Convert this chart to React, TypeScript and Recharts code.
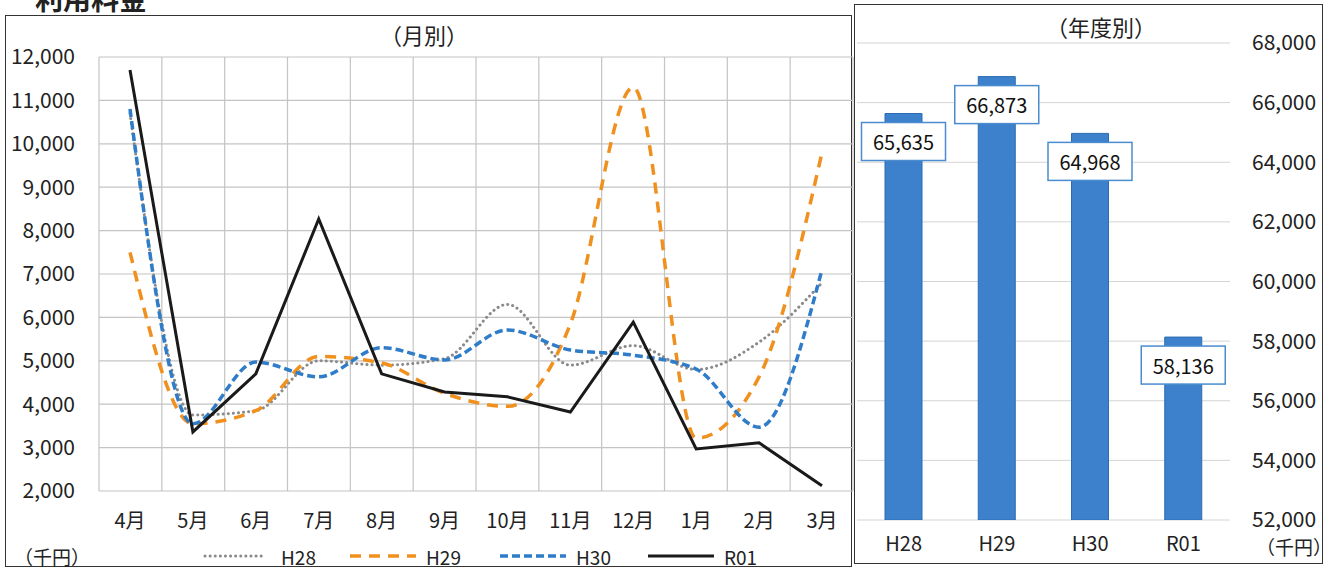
import React from 'react';
import {
  LineChart, Line, BarChart, Bar, XAxis, YAxis, CartesianGrid, LabelList,
} from 'recharts';

// 月別
const months = ['4月', '5月', '6月', '7月', '8月', '9月', '10月', '11月', '12月', '1月', '2月', '3月'];
const h28 = [10700, 3750, 3850, 5000, 4900, 5050, 6300, 4900, 5350, 4800, 5430, 6800];
const h29 = [7500, 3550, 3850, 5100, 4950, 4250, 3950, 5850, 11300, 3220, 4630, 9800];
const h30 = [10800, 3550, 4970, 4630, 5300, 5020, 5710, 5250, 5130, 4810, 3470, 7100];
const r01 = [11700, 3360, 4700, 8270, 4700, 4280, 4170, 3820, 5890, 2970, 3110, 2120];
const monthTicks = [2000, 3000, 4000, 5000, 6000, 7000, 8000, 9000, 10000, 11000, 12000];

// 年度別
const years = ['H28', 'H29', 'H30', 'R01'];
const yearTotals = [65635, 66873, 64968, 58136];
const yearTicks = [52000, 54000, 56000, 58000, 60000, 62000, 64000, 66000, 68000];

const monthData = months.map((m, i) => ({ m, H28: h28[i], H29: h29[i], H30: h30[i], R01: r01[i] }));
const yearData = years.map((y, i) => ({ y, v: yearTotals[i] }));

const FONT = '"Noto Sans CJK JP", "Noto Sans", sans-serif';
const GRID = '#c4c4c4';

const series = [
  { key: 'H28', color: '#8a8a8a', dash: '0.1 5', width: 3, type: 'monotone' as const, cap: 'round' as const },
  { key: 'H29', color: '#f0901e', dash: '11 8', width: 3.5, type: 'monotone' as const, cap: 'butt' as const },
  { key: 'H30', color: '#2f7cc8', dash: '8 4', width: 3.5, type: 'monotone' as const, cap: 'butt' as const },
  { key: 'R01', color: '#1a1a1a', dash: undefined, width: 3, type: 'linear' as const, cap: 'butt' as const },
];

// 区切り位置に縦グリッド
const boundaryLines = ({ offset }: any) => {
  const out: number[] = [];
  for (let i = 0; i <= months.length; i++) out.push(offset.left + (offset.width * i) / months.length);
  return out;
};

const ValueBox = (props: any) => {
  const { x, y, width, value } = props;
  const cx = x + width / 2;
  const cy = y + 28;
  return (
    <g>
      <rect x={cx - 42} y={cy - 19} width={84} height={38} fill="#fff" stroke="#4a8ccf" strokeWidth={1.5} />
      <text x={cx} y={cy} textAnchor="middle" dominantBaseline="central" fontSize={20} fill="#111" fontFamily={FONT}>
        {Number(value).toLocaleString('en-US')}
      </text>
    </g>
  );
};

const legendX = [205, 350, 500, 648];

export default function App() {
  return (
    <div style={{ position: 'absolute', left: 0, top: 0, width: 1335, height: 570, background: '#fff', fontFamily: FONT, overflow: 'hidden' }}>
      <div style={{ position: 'absolute', left: 35, top: -16, fontSize: 28, lineHeight: '28px', fontWeight: 700, color: '#222' }}>利用料金</div>

      {/* panel frames */}
      <div style={{ position: 'absolute', left: 5, top: 15, width: 847, height: 552, border: '1.5px solid #333', boxSizing: 'border-box' }} />
      <div style={{ position: 'absolute', left: 854, top: 4, width: 469, height: 560, border: '1.5px solid #333', boxSizing: 'border-box' }} />

      <div style={{ position: 'absolute', left: 380, top: 18, fontSize: 22, color: '#222' }}>（月別）</div>
      <div style={{ position: 'absolute', left: 1046, top: 10, fontSize: 22, color: '#222' }}>（年度別）</div>

      <div style={{ position: 'absolute', left: 0, top: 0 }}>
        <LineChart width={860} height={570} data={monthData} margin={{ top: 57, right: 7, bottom: 0, left: 0 }}>
          <CartesianGrid stroke={GRID} strokeWidth={1.2} verticalCoordinatesGenerator={boundaryLines} />
          <XAxis dataKey="m" axisLine={false} tickLine={false} tickSize={0} tickMargin={23} height={79}
            interval={0} padding={{ left: 31, right: 31 }} tick={{ fontSize: 20, fill: '#222', fontFamily: FONT }} />
          <YAxis domain={[2000, 12000]} ticks={monthTicks} axisLine={false} tickLine={false} tickSize={0} tickMargin={24}
            width={99} tickFormatter={(v: number) => v.toLocaleString('en-US')}
            tick={{ fontSize: 21, fill: '#222', fontFamily: FONT }} />
          {series.map(s => (
            <Line key={s.key} dataKey={s.key} type={s.type} stroke={s.color} strokeWidth={s.width}
              strokeDasharray={s.dash} strokeLinecap={s.cap} dot={false} activeDot={false} isAnimationActive={false} />
          ))}
        </LineChart>
      </div>

      {/* 凡例 */}
      <div style={{ position: 'absolute', left: 14, top: 543, fontSize: 19, color: '#222' }}>（千円）</div>
      <svg style={{ position: 'absolute', left: 0, top: 540 }} width={800} height={30}>
        {series.map((s, i) => (
          <g key={s.key}>
            <line x1={legendX[i]} x2={legendX[i] + (i === 0 ? 60 : 66)} y1={16} y2={16} stroke={s.color}
              strokeWidth={s.width} strokeDasharray={s.dash} strokeLinecap={s.cap} />
            <text x={legendX[i] + 76} y={16} dominantBaseline="central" fontSize={19} fill="#222" fontFamily={FONT}>{s.key}</text>
          </g>
        ))}
      </svg>

      <div style={{ position: 'absolute', left: 853, top: 0 }}>
        <BarChart width={482} height={570} data={yearData} margin={{ top: 43, right: 0, bottom: 0, left: 4 }} barSize={37}>
          <CartesianGrid stroke="#d4d4d4" vertical={false} />
          <XAxis dataKey="y" axisLine={false} tickLine={false} tickSize={0} tickMargin={17} height={50}
            tick={{ fontSize: 20, fill: '#222', fontFamily: FONT }} />
          <YAxis orientation="right" domain={[52000, 68000]} ticks={yearTicks} allowDataOverflow
            axisLine={false} tickLine={false} tickSize={0} tickMargin={22} width={105}
            tickFormatter={(v: number) => v.toLocaleString('en-US')}
            tick={{ fontSize: 21, fill: '#222', fontFamily: FONT, textAnchor: 'start' }} />
          <Bar dataKey="v" fill="#3d80cb" stroke="#2d6cb2" strokeWidth={1} isAnimationActive={false}>
            <LabelList dataKey="v" content={<ValueBox />} />
          </Bar>
        </BarChart>
      </div>
      <div style={{ position: 'absolute', left: 1256, top: 533, fontSize: 19, color: '#222' }}>（千円）</div>
    </div>
  );
}
